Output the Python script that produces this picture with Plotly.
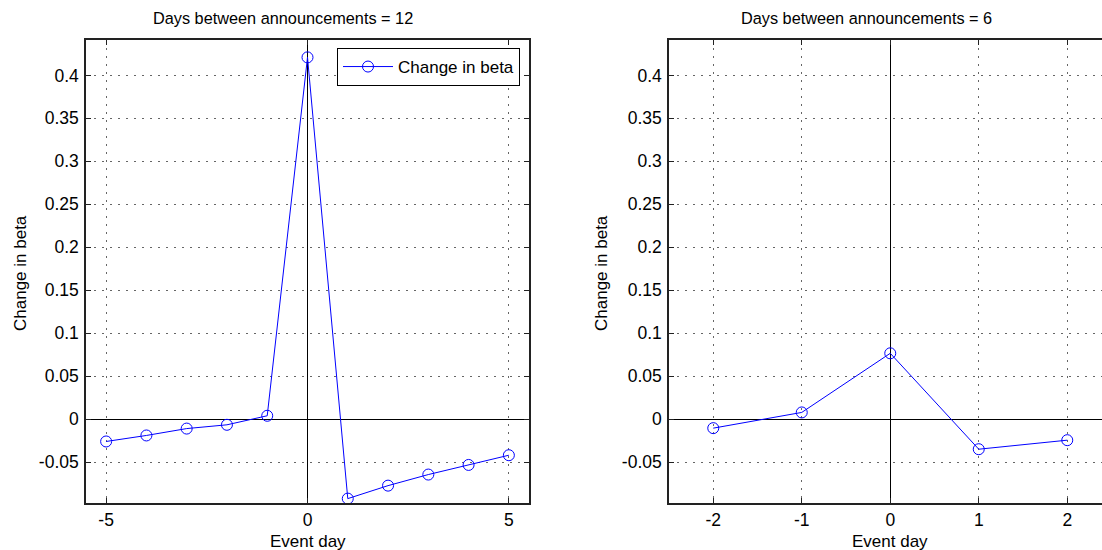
import plotly.graph_objects as go

# ---- data ----
left_days = [-5, -4, -3, -2, -1, 0, 1, 2, 3, 4, 5]
left_beta = [-0.026, -0.019, -0.011, -0.0066, 0.0039, 0.421, -0.0925, -0.0774, -0.0645, -0.0533, -0.042]
right_days = [-2, -1, 0, 1, 2]
right_beta = [-0.0105, 0.0078, 0.0766, -0.035, -0.0245]

y_tickvals = [-0.05, 0, 0.05, 0.1, 0.15, 0.2, 0.25, 0.3, 0.35, 0.4]
y_ticktext = ["-0.05", "0", "0.05", "0.1", "0.15", "0.2", "0.25", "0.3", "0.35", "0.4"]
left_xticks = [-5, 0, 5]
left_xtext = ["-5", "0", "5"]
right_xticks = [-2, -1, 0, 1, 2]
right_xtext = ["-2", "-1", "0", "1", "2"]
titles = ["Days between announcements = 12", "Days between announcements = 6"]
series_name = "Change in beta"
x_label = "Event day"
y_label = "Change in beta"

W, H = 1102, 550
FONT = "Liberation Sans, Arial, sans-serif"
FS = 17
TICK_FS = 17.5
BLUE = "#0000FF"

fig = go.Figure()
fig.add_trace(go.Scatter(
    x=left_days, y=left_beta, mode="lines+markers", name=series_name,
    line=dict(color=BLUE, width=1),
    marker=dict(symbol="circle-open", size=11, color=BLUE, line=dict(width=1, color=BLUE)),
    xaxis="x", yaxis="y", showlegend=True))
fig.add_trace(go.Scatter(
    x=right_days, y=right_beta, mode="lines+markers", name=series_name,
    line=dict(color=BLUE, width=1),
    marker=dict(symbol="circle-open", size=11, color=BLUE, line=dict(width=1, color=BLUE)),
    xaxis="x2", yaxis="y2", showlegend=False))

# plot area geometry (pixels)
top_px, bot_px = 40, 503
L1, R1 = 86, 529
L2 = 669

common_ax = dict(
    showgrid=True, gridcolor="#666666", griddash="2px,6px", gridwidth=1,
    zeroline=True, zerolinecolor="#000000", zerolinewidth=1,
    showline=True, linecolor="#222222", linewidth=1.5,
    ticks="inside", ticklen=5, tickcolor="#222222",
    tickfont=dict(family=FONT, size=TICK_FS, color="#000000"),
)
yr = [-0.0976, 0.4412]
fig.update_layout(
    width=W, height=H,
    margin=dict(l=0, r=0, t=top_px, b=H - bot_px),
    paper_bgcolor="white", plot_bgcolor="white",
    font=dict(family=FONT, size=FS, color="#000000"),
    xaxis=dict(domain=[L1 / W, R1 / W], range=[-5.5, 5.5], tickvals=left_xticks, ticktext=left_xtext,
               mirror="ticks", anchor="y", **common_ax),
    yaxis=dict(domain=[0, 1], range=yr, tickvals=y_tickvals, ticktext=y_ticktext,
               mirror="ticks", anchor="x", ticklabelstandoff=2, **common_ax),
    xaxis2=dict(domain=[L2 / W, 1], range=[-2.5, -2.5 + (W - L2) / 88.5], tickvals=right_xticks,
                ticktext=right_xtext, mirror="ticks", anchor="y2", **common_ax),
    yaxis2=dict(domain=[0, 1], range=yr, tickvals=y_tickvals, ticktext=y_ticktext,
                mirror=False, anchor="x2", ticklabelstandoff=2, **common_ax),
    legend=dict(x=520 / W, xanchor="right", y=(bot_px - 48) / (bot_px - top_px), yanchor="top",
                bgcolor="white", bordercolor="#000000", borderwidth=1,
                font=dict(family=FONT, size=FS), itemwidth=50,
                xref="paper", yref="paper"),
)

def py(px):
    return (bot_px - px) / (bot_px - top_px)

ann = []
ann.append(dict(text=titles[0], x=283 / W, y=py(18), xref="paper", yref="paper",
                showarrow=False, xanchor="center", yanchor="middle", font=dict(size=16.3)))
ann.append(dict(text=titles[1], x=866 / W, y=py(18), xref="paper", yref="paper",
                showarrow=False, xanchor="center", yanchor="middle", font=dict(size=16.3)))
for cx in [(L1 + R1) / 2, 890]:
    ann.append(dict(text=x_label, x=cx / W, y=py(541), xref="paper", yref="paper",
                    showarrow=False, xanchor="center", yanchor="middle", font=dict(size=FS)))
for cx in [20, 601]:
    ann.append(dict(text=y_label, x=cx / W, y=py(273), xref="paper", yref="paper",
                    showarrow=False, xanchor="center", yanchor="middle", textangle=-90,
                    font=dict(size=FS)))
fig.update_layout(annotations=ann)

fig.write_html("out.html", config={"displayModeBar": False},
               post_script="document.body.style.margin='0px';document.body.style.overflow='hidden';")
